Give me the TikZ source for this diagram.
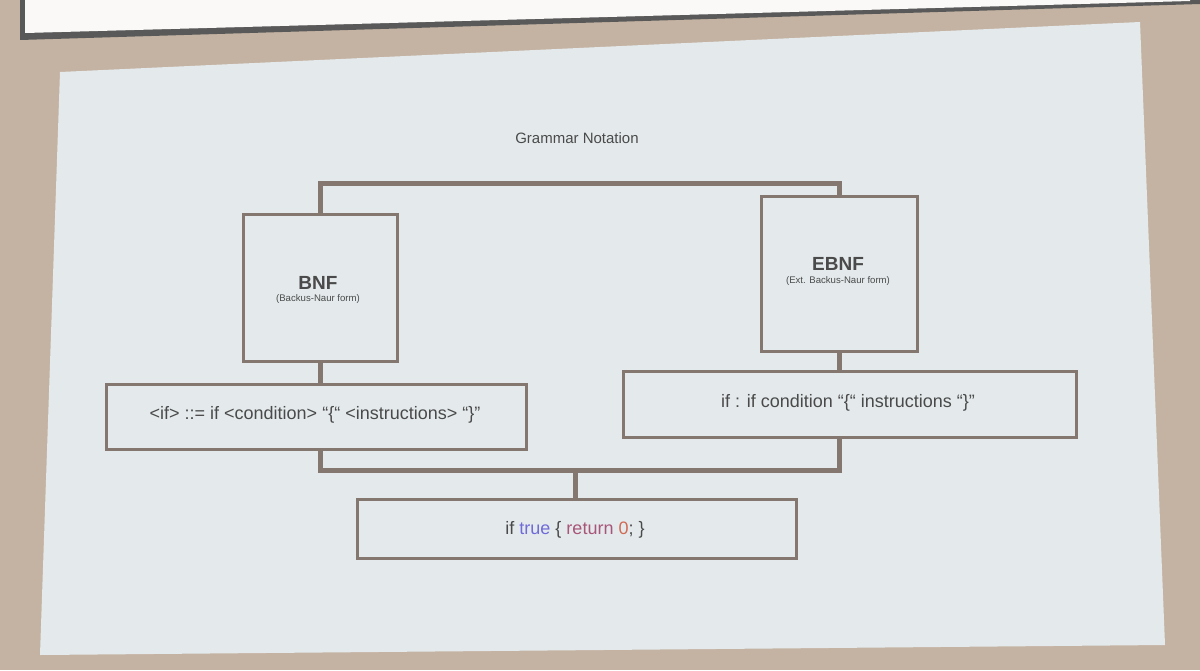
\documentclass[tikz,border=0pt]{standalone}
\usepackage{fontspec}
\setmainfont{Liberation Sans}
\definecolor{wall}{HTML}{C4B3A3}
\definecolor{scr}{HTML}{E4EAEC}
\definecolor{ln}{HTML}{847770}
\definecolor{txt}{HTML}{4A4A4A}
\definecolor{kw}{HTML}{6F6BD8}
\definecolor{ret}{HTML}{A8557A}
\definecolor{num}{HTML}{D06A55}
\begin{document}
\begin{tikzpicture}[x=0.5pt,y=-0.5pt,
  box/.style={draw=ln,line width=1.5pt,fill=scr,inner sep=0pt,anchor=north west},
  conn/.style={draw=ln,line width=2.5pt},
  t/.style={text=txt,font=\fontsize{9}{11}\selectfont}]
\useasboundingbox (0,0) rectangle (1200,670);
\fill[wall] (0,0) rectangle (1200,670);
\fill[scr] (60,72) -- (1140,22) -- (1165,645) -- (40,655) -- cycle;
\fill[black!65] (20,0) -- (1200,0) -- (1200,4) -- (20,40) -- cycle;
\fill[white!92!wall] (25,0) -- (1190,0) -- (1190,1) -- (25,33) -- cycle;
\node[text=txt,font=\fontsize{7.5}{9}\selectfont] (title) at (577,138) {Grammar Notation};
% boxes
\node[box,minimum width=77pt,minimum height=73.5pt] (bnf) at (242,213) {};
\node[t,font=\fontsize{9.5}{11}\selectfont\bfseries] at (318,283) {BNF};
\node[t,font=\fontsize{4.8}{6}\selectfont] at (318,299) {(Backus-Naur form)};
\node[box,minimum width=78pt,minimum height=77.5pt] (ebnf) at (760,195) {};
\node[t,font=\fontsize{9.5}{11}\selectfont\bfseries] at (838,264) {EBNF};
\node[t,font=\fontsize{4.8}{6}\selectfont] at (838,281) {(Ext. Backus-Naur form)};
\node[box,minimum width=210pt,minimum height=32.5pt] (bc) at (105,383) {};
\node[t] at (315,415) {<if> ::= if <condition> “\{“ <instructions> “\}”};
\node[box,minimum width=226.5pt,minimum height=33pt] (ec) at (622,370) {};
\node[t] at (848,403) {if : if condition “\{“ instructions “\}”};
\node[box,minimum width=219.5pt,minimum height=29.5pt] (res) at (356,498) {};
\node[t] at (575,530) {if \textcolor{kw}{true} \{ \textcolor{ret}{return} \textcolor{num}{0}; \}};
% connectors
\coordinate (j1) at (bnf.north |- 0,183);
\coordinate (j2) at (ebnf.north |- 0,183);
\draw[conn] (bnf.north) -- (j1) -- (j2) -- (ebnf.north);
\draw[conn] (bnf.south) -- (bnf.south |- bc.north);
\draw[conn] (ebnf.south) -- (ebnf.south |- ec.north);
\coordinate (j3) at (bnf.south |- 0,470);
\coordinate (j4) at (ebnf.south |- 0,470);
\draw[conn] (bnf.south |- bc.south) -- (j3) -- (j4) -- (ebnf.south |- ec.south);
\coordinate (m) at (575,470);
\draw[conn] (m) -- (res.north -| m);
\end{tikzpicture}
\end{document}
